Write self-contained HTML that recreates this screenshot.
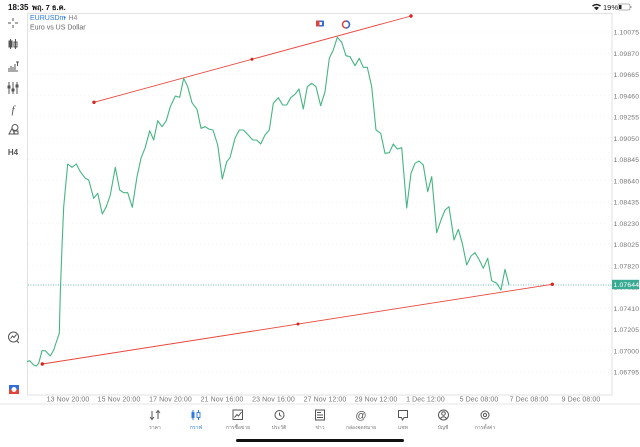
<!DOCTYPE html>
<html><head><meta charset="utf-8">
<style>
html,body{margin:0;padding:0;background:#fff;}
body{width:640px;height:447px;overflow:hidden;position:relative;font-family:"Liberation Sans","DejaVu Sans",sans-serif;}
svg{position:absolute;left:0;top:0;}
</style></head><body>
<svg width="640" height="447" viewBox="0 0 640 447" xmlns="http://www.w3.org/2000/svg" font-family="Liberation Sans, DejaVu Sans, sans-serif">
<!-- status bar -->
<text x="8" y="10" font-size="8" fill="#111" font-weight="bold">18:35</text>
<text x="32" y="10" font-size="7.5" fill="#111" font-weight="bold">พฤ. 7 ธ.ค.</text>
<g fill="#222">
<path d="M592,5.5 Q596.5,2 601,5.5 L600,6.6 Q596.5,4 593,6.6 Z"/>
<path d="M594,7.6 Q596.5,5.8 599,7.6 L596.5,10.2 Z"/>
</g>
<text x="603" y="10" font-size="7.5" fill="#222">19%</text>
<rect x="618" y="4" width="12" height="6" rx="1.5" fill="none" stroke="#999" stroke-width="0.8"/>
<rect x="619" y="5" width="2.5" height="4" fill="#222"/>
<rect x="630.5" y="6" width="1" height="2" fill="#999"/>

<!-- grid -->
<g stroke="#ececec" stroke-width="0.6" stroke-dasharray="1 3">
<line x1="28" y1="32" x2="611" y2="32"/><line x1="28" y1="53.25" x2="611" y2="53.25"/>
<line x1="28" y1="74.5" x2="611" y2="74.5"/><line x1="28" y1="95.75" x2="611" y2="95.75"/>
<line x1="28" y1="117" x2="611" y2="117"/><line x1="28" y1="138.25" x2="611" y2="138.25"/>
<line x1="28" y1="159.5" x2="611" y2="159.5"/><line x1="28" y1="180.75" x2="611" y2="180.75"/>
<line x1="28" y1="202" x2="611" y2="202"/><line x1="28" y1="223.25" x2="611" y2="223.25"/>
<line x1="28" y1="244.5" x2="611" y2="244.5"/><line x1="28" y1="265.75" x2="611" y2="265.75"/>
<line x1="28" y1="308.25" x2="611" y2="308.25"/><line x1="28" y1="329.5" x2="611" y2="329.5"/>
<line x1="28" y1="350.75" x2="611" y2="350.75"/><line x1="28" y1="372" x2="611" y2="372"/>
</g>

<!-- chart frame -->
<rect x="27.5" y="13.5" width="584.5" height="381.5" fill="none" stroke="#e2e2e2" stroke-width="1"/>
<line x1="0" y1="404" x2="640" y2="404" stroke="#e6e6e6" stroke-width="1"/>

<!-- header -->
<text x="30" y="20" font-size="7" fill="#2d7be0">EURUSDm</text>
<text x="63.5" y="20" font-size="7" fill="#2d7be0">•</text>
<text x="68.5" y="20" font-size="7" fill="#888">H4</text>
<text x="30" y="29.5" font-size="7" fill="#666">Euro vs US Dollar</text>

<!-- top icons -->
<rect x="316" y="20.5" width="8" height="6" rx="1" fill="#2f6fd6"/>
<rect x="316" y="20.5" width="3.5" height="6" fill="#e0443a"/>
<rect x="319.5" y="22" width="2.5" height="3" fill="#fff"/>
<circle cx="346" cy="24.5" r="3.5" fill="none" stroke="#e0443a" stroke-width="1.5"/>
<path d="M346,21 A3.5,3.5 0 0 1 346,28" fill="none" stroke="#2f6fd6" stroke-width="1.5"/>

<!-- current price dotted line -->
<line x1="28" y1="285" x2="612" y2="285" stroke="#3fb39a" stroke-width="0.7" stroke-dasharray="1 1.5"/>

<!-- trend lines -->
<line x1="94" y1="102.3" x2="411" y2="16" stroke="#e8453c" stroke-width="0.9"/>
<circle cx="94" cy="102.3" r="1.7" fill="#e0201a"/>
<circle cx="252" cy="59.3" r="1.5" fill="#e0201a"/>
<circle cx="411" cy="16" r="1.7" fill="#e0201a"/>
<line x1="42.3" y1="364" x2="552.3" y2="284.3" stroke="#e8453c" stroke-width="0.9"/>
<circle cx="42.3" cy="364" r="1.7" fill="#e0201a"/>
<circle cx="298" cy="324" r="1.5" fill="#e0201a"/>
<circle cx="552.3" cy="284.3" r="1.7" fill="#e0201a"/>

<!-- price line -->
<polyline fill="none" stroke="#45b583" stroke-width="1.1" stroke-linejoin="round" points="27,361.7 29.7,360.7 33.7,365 36.3,366 38.7,363.3 42,350.7 45.3,350.7 50.3,356 53.7,350 57,340 59.3,333.3 60.3,293 62,246.7 63.7,206.7 67.7,164 72,167.3 76.3,164 80.3,171.7 85.3,178.3 88.7,180 93.7,198.3 97.7,193.3 102.3,214 106.3,206.7 110.3,195 115.3,167.3 119.7,190 123.7,192.7 127.7,192.7 132.3,207.3 137,176.7 141,158.3 145.3,147.3 149.7,130.7 153.7,140 157.7,120.7 162,126.7 166.3,120.7 170.3,106.7 175.3,96 179.7,97.3 183.7,78.3 187.7,86.7 192,102.7 197,109.3 201,128.3 205.3,126.7 208.7,129 213,130 217.7,145 222.3,179 226.7,161.7 230,157.7 235,138.3 239.3,130 243.3,130 248.3,135 252.7,140 256.7,140 260.7,144 265,135 269.3,130 273.3,103.3 278.3,97.7 282.7,105 286.7,105 290.7,97.7 295,94.3 299,89 303.3,109 307.3,86.7 311.7,83.3 316,86.7 320.7,105.7 325,91.7 329.3,58.3 333.3,50 337.3,37.3 341.7,42.3 346,55.7 350,56.7 355,65.7 359.3,58.3 363.3,67.3 367.3,67.3 371.7,86.7 376,130 380.7,133.3 385,153.3 389.3,152.7 393.3,144 397.3,149 401.7,147.7 406.7,208 411,173.3 415,163.3 419,161 423.3,165 427.7,191.7 431.7,176.7 436.7,232.7 441,220 445,210 449,206.7 454,240 458.3,229.3 462.3,243.3 466.7,265 471,256 475,252.7 479,259.3 483.3,268.3 487.7,258.3 491.7,280.7 496.7,283.3 501,290 505,269.3 509,285"/>

<!-- price axis labels -->
<g font-size="6.8" fill="#777" letter-spacing="0.15">
<text x="613.5" y="34.5">1.10075</text>
<text x="613.5" y="55.75">1.09870</text>
<text x="613.5" y="77">1.09665</text>
<text x="613.5" y="98.25">1.09460</text>
<text x="613.5" y="119.5">1.09255</text>
<text x="613.5" y="140.75">1.09050</text>
<text x="613.5" y="162">1.08845</text>
<text x="613.5" y="183.25">1.08640</text>
<text x="613.5" y="204.5">1.08435</text>
<text x="613.5" y="225.75">1.08230</text>
<text x="613.5" y="247">1.08025</text>
<text x="613.5" y="268.25">1.07820</text>
<text x="613.5" y="289.5">1.07615</text>
<text x="613.5" y="310.75">1.07410</text>
<text x="613.5" y="332">1.07205</text>
<text x="613.5" y="353.25">1.07000</text>
<text x="613.5" y="374.5">1.06795</text>
</g>
<rect x="612" y="279.8" width="27" height="9.4" fill="#3aab93"/>
<text x="613.5" y="287.2" font-size="6.8" fill="#fff" letter-spacing="0.15">1.07644</text>

<!-- time axis labels -->
<g font-size="7" fill="#777" text-anchor="middle" letter-spacing="0.1">
<text x="68" y="401.5">13 Nov 20:00</text>
<text x="119" y="401.5">15 Nov 20:00</text>
<text x="170.5" y="401.5">17 Nov 20:00</text>
<text x="222" y="401.5">21 Nov 16:00</text>
<text x="273.5" y="401.5">23 Nov 16:00</text>
<text x="325" y="401.5">27 Nov 12:00</text>
<text x="376" y="401.5">29 Nov 12:00</text>
<text x="425.5" y="401.5">1 Dec 12:00</text>
<text x="479" y="401.5">5 Dec 08:00</text>
<text x="529" y="401.5">7 Dec 08:00</text>
<text x="581" y="401.5">9 Dec 08:00</text>
</g>

<!-- left toolbar -->
<g stroke="#555" stroke-width="1" fill="none">
<line x1="8" y1="23" x2="11" y2="23"/><line x1="15" y1="23" x2="18" y2="23"/>
<line x1="13" y1="18" x2="13" y2="21"/><line x1="13" y1="25" x2="13" y2="28"/>
<line x1="10.5" y1="39" x2="10.5" y2="49"/><rect x="9" y="41" width="3" height="6" fill="#555"/>
<line x1="15.5" y1="39" x2="15.5" y2="49"/><rect x="14" y="42" width="3" height="5"/>
<line x1="8" y1="71" x2="18" y2="71"/>
<line x1="9" y1="70" x2="9" y2="68"/><line x1="11" y1="70" x2="11" y2="66"/><line x1="13" y1="70" x2="13" y2="67"/><line x1="15" y1="70" x2="15" y2="64"/>
<line x1="16" y1="62" x2="19" y2="62"/><line x1="17.5" y1="62" x2="17.5" y2="66"/>
<line x1="9" y1="82" x2="9" y2="94"/><line x1="13" y1="82" x2="13" y2="94"/><line x1="17" y1="82" x2="17" y2="94"/>
<rect x="8" y="86" width="2" height="2" fill="#555"/><rect x="12" y="89" width="2" height="2" fill="#555"/><rect x="16" y="85" width="2" height="2" fill="#555"/>
<circle cx="15" cy="127.5" r="3"/>
<path d="M9,134 L12,128.5 L15,134 Z"/>
<rect x="14" y="131" width="4" height="3"/>
<circle cx="13.5" cy="337" r="5"/>
<path d="M10.5,338.5 L12.5,336 L14,337.5 L16.5,334.5"/>
<line x1="17" y1="341" x2="19" y2="343"/>
</g>
<text x="13" y="113" font-size="11" font-style="italic" fill="#555" text-anchor="middle" font-family="Liberation Serif, serif">f</text>
<text x="13" y="155" font-size="8" font-weight="bold" fill="#555" text-anchor="middle">H4</text>
<rect x="9" y="385" width="10" height="4.5" fill="#2f6fd6"/>
<rect x="9" y="389.5" width="10" height="4.5" fill="#e0443a"/>
<circle cx="14" cy="389.5" r="2.5" fill="#fff"/>

<!-- bottom tab bar -->
<g stroke="#555" stroke-width="1" fill="none">
<path d="M152,411 L152,419 M150,417 L152,419.5 L154,417"/>
<path d="M158,419 L158,411 M156,413 L158,410.5 L160,413"/>
<circle cx="279.5" cy="415" r="4.5"/>
<path d="M279.5,412.5 L279.5,415 L281.5,416.5"/>
<rect x="233" y="410" width="9.5" height="9.5"/>
<path d="M234.5,417.5 L237,414.5 L238.5,416 L241.5,412"/>
<rect x="315.5" y="410" width="9" height="10"/>
<path d="M317,412.5 L321,412.5 M317,415 L323,415 M317,417.5 L323,417.5"/>
<path d="M398.5,410.5 L407.5,410.5 L407.5,417.5 L404,417.5 L402.5,420 L401.5,417.5 L398.5,417.5 Z"/>
<circle cx="443.5" cy="415" r="5"/>
<circle cx="443.5" cy="413.5" r="1.8"/>
<path d="M440.5,418.5 Q443.5,415 446.5,418.5"/>
<circle cx="485" cy="415" r="4"/>
<circle cx="485" cy="415" r="1.6"/>
</g>
<g fill="#2d7be0">
<line x1="193" y1="410" x2="193" y2="420" stroke="#2d7be0" stroke-width="1"/>
<rect x="191.5" y="412" width="3" height="6"/>
<line x1="198.5" y1="410" x2="198.5" y2="420" stroke="#2d7be0" stroke-width="1"/>
<rect x="197" y="412.5" width="3" height="5" fill="#fff" stroke="#2d7be0" stroke-width="0.9"/>
</g>
<text x="361" y="419" font-size="11" fill="#555" text-anchor="middle">@</text>
<g font-size="5" fill="#777" text-anchor="middle">
<text x="155" y="429">ราคา</text>
<text x="196" y="429" fill="#2d7be0">กราฟ</text>
<text x="238" y="429">การซื้อขาย</text>
<text x="279" y="429">ประวัติ</text>
<text x="320" y="429">ข่าว</text>
<text x="361" y="429">กล่องจดหมาย</text>
<text x="403" y="429">แชท</text>
<text x="443" y="429">บัญชี</text>
<text x="485" y="429">การตั้งค่า</text>
</g>
<rect x="236" y="439" width="168" height="3" rx="1.5" fill="#111"/>
</svg>
</body></html>
